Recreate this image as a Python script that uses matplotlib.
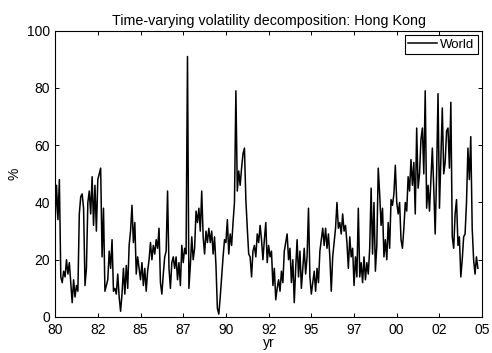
import numpy as np
import matplotlib
matplotlib.use("Agg")
import matplotlib.pyplot as plt
from matplotlib.ticker import FuncFormatter

# ---------- DATA (monthly) ----------
START_YEAR = 1980
vol_world = [
    # 1980
    33, 46, 34, 48, 14, 12, 16, 14, 20, 15, 19, 12,
    # 1981
    5, 13, 7, 11, 9, 36, 42, 43, 38, 11, 17, 40,
    # 1982
    44, 36, 49, 32, 46, 30, 48, 50, 52, 21, 38, 9,
    # 1983
    11, 13, 23, 17, 27, 9, 10, 8, 15, 7, 2, 8,
    # 1984
    17, 8, 18, 10, 25, 30, 39, 26, 33, 15, 21, 17,
    # 1985
    13, 19, 11, 17, 9, 16, 20, 26, 20, 25, 22, 27,
    # 1986
    24, 31, 12, 8, 15, 21, 23, 44, 17, 10, 19, 21,
    # 1987
    17, 21, 13, 19, 11, 25, 19, 24, 22, 91, 10, 18,
    # 1988
    28, 20, 24, 37, 33, 38, 30, 44, 28, 22, 30, 26,
    # 1989
    31, 26, 30, 22, 28, 18, 3, 1, 7, 14, 21, 27,
    # 1990
    26, 34, 22, 29, 25, 33, 40, 79, 44, 51, 46, 52,
    # 1991
    57, 59, 41, 31, 22, 21, 14, 23, 25, 21, 29, 26,
    # 1992
    32, 27, 20, 27, 33, 19, 25, 21, 23, 11, 17, 6,
    # 1993
    10, 13, 9, 16, 12, 23, 26, 29, 20, 24, 12, 20,
    # 1994
    5, 17, 27, 14, 23, 10, 17, 24, 15, 21, 38, 14,
    # 1995
    8, 12, 16, 9, 17, 12, 23, 27, 31, 25, 31, 24,
    # 1996
    29, 21, 9, 21, 26, 31, 40, 31, 33, 29, 36, 30,
    # 1997
    32, 26, 17, 28, 21, 24, 11, 21, 14, 38, 14, 19,
    # 1998
    12, 21, 13, 19, 15, 24, 45, 22, 40, 16, 25, 52,
    # 1999
    43, 32, 38, 21, 27, 20, 33, 24, 41, 39, 43, 53,
    # 2000
    40, 36, 40, 27, 24, 31, 40, 37, 49, 44, 55, 46,
    # 2001
    54, 36, 66, 45, 50, 62, 66, 50, 79, 38, 46, 37,
    # 2002
    48, 59, 45, 29, 50, 78, 38, 56, 73, 50, 54, 65,
    # 2003
    66, 52, 75, 28, 24, 36, 41, 25, 28, 14, 20, 28,
    # 2004
    29, 40, 59, 48, 63, 31, 20, 15, 21, 17,
]
series_name = "World"
x_ticks = [1980, 1982.5, 1985, 1987.5, 1990, 1992.5, 1995, 1997.5, 2000, 2002.5, 2005]
y_ticks = [0, 20, 40, 60, 80, 100]

years = START_YEAR + np.arange(len(vol_world)) / 12.0

# ---------- PLOT ----------
plt.rcParams['font.family'] = ['Liberation Sans', 'DejaVu Sans']

fig = plt.figure(figsize=(4.92, 3.53), dpi=100)
ax = fig.add_axes([0.112, 0.102, 0.868, 0.811])

ax.plot(years, vol_world, color='black', lw=1.1, label=series_name)

ax.set_xlim(1980, 2005)
ax.set_ylim(0, 100)
ax.set_xticks(x_ticks)
ax.set_yticks(y_ticks)
ax.xaxis.set_major_formatter(FuncFormatter(lambda v, p: f"{int(v) % 100:02d}"))
ax.tick_params(direction='in', top=True, right=True, labelsize=10, length=3, width=0.7)
ax.tick_params(axis='x', pad=4.5)
ax.tick_params(axis='y', pad=3.5)
for s in ax.spines.values():
    s.set_linewidth(0.8)

ax.set_title("Time-varying volatility decomposition: Hong Kong", fontsize=10.3, pad=4)
ax.set_xlabel("yr", fontsize=10, labelpad=-1)
ax.set_ylabel("%", fontsize=10, labelpad=4)

leg = ax.legend(loc='upper right', fontsize=9.5, fancybox=False, framealpha=1,
                edgecolor='black', borderpad=0.25, handlelength=2.2,
                handletextpad=0.2, borderaxespad=0.35)
leg.get_frame().set_linewidth(0.8)

fig.savefig("out.png", dpi=100)
